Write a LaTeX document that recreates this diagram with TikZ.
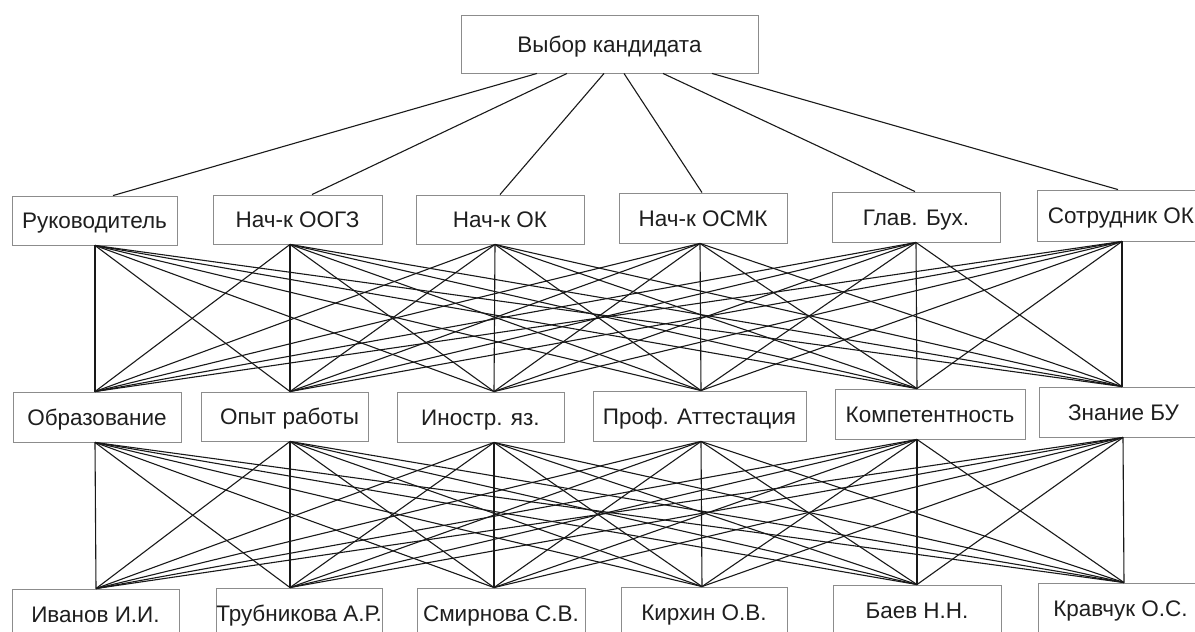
\documentclass[tikz,border=0pt]{standalone}
\usepackage{fontspec}
\setmainfont{Liberation Sans}
\definecolor{boxgray}{RGB}{140,140,140}
\definecolor{inkgray}{RGB}{30,30,30}
\definecolor{linkgray}{RGB}{25,25,25}
\begin{document}
\begin{tikzpicture}[x=1pt,y=-1pt,
  box/.style={draw=boxgray,line width=0.9pt,rectangle,inner sep=0pt,
    text=inkgray,text height=16.1pt,text depth=0pt,align=center,
    font=\fontsize{22.5}{27}\selectfont},
  link/.style={draw=linkgray,line width=1.1pt}]
\useasboundingbox (0,0) rectangle (1195,632);
\clip (0,0) rectangle (1195,632);

% goal
\node[box,minimum width=297pt,minimum height=58pt] (T) at (609.5,44) {Выбор кандидата};

% experts
\node[box,minimum width=165pt,minimum height=49pt] (A1) at (94.5,220.5) {Руководитель};
\node[box,minimum width=169pt,minimum height=49pt] (A2) at (297.5,219.5) {Нач-к ООГЗ};
\node[box,minimum width=168pt,minimum height=49pt] (A3) at (500,219.5) {Нач-к ОК};
\node[box,minimum width=168pt,minimum height=50pt] (A4) at (703,218) {Нач-к ОСМК};
\node[box,minimum width=168pt,minimum height=50pt] (A5) at (916,217) {Глав. Бух.};
\node[box,minimum width=168pt,minimum height=51pt] (A6) at (1121,215.5) {Сотрудник ОК};

% criteria
\node[box,minimum width=168pt,minimum height=50pt] (B1) at (97,417) {Образование};
\node[box,minimum width=167pt,minimum height=49pt] (B2) at (284.5,416.5) {\hspace*{10pt}Опыт работы};
\node[box,minimum width=167pt,minimum height=50pt] (B3) at (480.5,417) {Иностр. яз.};
\node[box,minimum width=213pt,minimum height=50pt] (B4) at (699.5,416) {Проф. Аттестация};
\node[box,minimum width=190pt,minimum height=50pt] (B5) at (930,414) {Компетентность};
\node[box,minimum width=169pt,minimum height=50pt] (B6) at (1123.5,412) {Знание БУ};

% candidates
\node[box,minimum width=167pt,minimum height=50pt] (C1) at (95.5,614) {Иванов И.И.};
\node[box,minimum width=166pt,minimum height=50pt] (C2) at (299,613) {Трубникова А.Р.};
\node[box,minimum width=168pt,minimum height=50pt] (C3) at (501,613) {Смирнова С.В.};
\node[box,minimum width=166pt,minimum height=50pt] (C4) at (704,612) {Кирхин О.В.};
\node[box,minimum width=168pt,minimum height=50pt] (C5) at (917,610) {Баев Н.Н.};
\node[box,minimum width=165pt,minimum height=50pt] (C6) at (1120.5,608) {Кравчук О.С.};

% attachment points on the goal box
\foreach \k/\dx in {1/-72.5,2/-42.5,3/-5.5,4/14.5,5/53.5,6/102.5}
  \coordinate (T-\k) at ([xshift=\dx pt]T.south);

% attachment points on the lower boxes
\foreach \n/\dt/\db in {A1/18.5/0.5,A2/14.5/-7.5,A3/0/-5,A4/-1/-3,A5/-1/0,A6/-3/1,
    B1/-2/-2,B2/5.5/5.5,B3/13.5/13.5,B4/1.5/1.5,B5/-13/-13,B6/-1.5/-0.5,
    C1/0.5/0.5,C2/-9/-9,C3/-7/-7,C4/-2/-2,C5/0/0,C6/3.5/3.5}{
  \coordinate (\n-t) at ([xshift=\dt pt]\n.north);
  \coordinate (\n-b) at ([xshift=\db pt]\n.south);
}

% goal to experts
\foreach \k in {1,...,6}
  \draw[link] (T-\k) -- (A\k-t);

% experts to criteria, criteria to candidates
\foreach \i in {1,...,6}{
  \foreach \j in {1,...,6}{
    \draw[link] (A\i-b) -- (B\j-t);
    \draw[link] (B\i-b) -- (C\j-t);
  }
}
\end{tikzpicture}
\end{document}
